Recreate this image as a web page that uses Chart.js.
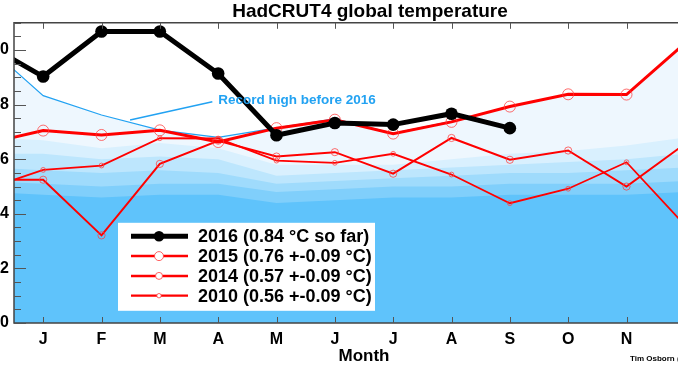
<!DOCTYPE html>
<html>
<head>
<meta charset="utf-8">
<script src="https://cdn.jsdelivr.net/npm/chart.js@4"></script>
<style>
  html, body { margin: 0; padding: 0; background: #fff; overflow: hidden; width: 678px; height: 378px; }
  /* the original figure is cropped on both sides, so the canvas is wider than the page */
  #wrap { position: absolute; left: -30px; top: 0; width: 800px; height: 378px; }
</style>
</head>
<body>
<div id="wrap"><canvas id="tempChart"></canvas></div>
<script>
// month letters on the axis, and x positions (-1 = December of the year before)
const MONTHS = ['J', 'F', 'M', 'A', 'M', 'J', 'J', 'A', 'S', 'O', 'N', 'D'];
const MONTH_POS = [-1, 0, 1, 2, 3, 4, 5, 6, 7, 8, 9, 10, 11];
const Y_TICKS = [0, 0.2, 0.4, 0.6, 0.8, 1.0];

// anomalies (degC), previous December first
const t2016 = [1.025, 0.903, 1.068, 1.068, 0.914, 0.688, 0.733, 0.727, 0.767, 0.714];
const t2015 = [0.656, 0.705, 0.689, 0.706, 0.663, 0.714, 0.745, 0.694, 0.737, 0.793, 0.838, 0.837, 1.025];
const t2014 = [0.525, 0.525, 0.321, 0.583, 0.668, 0.610, 0.626, 0.547, 0.678, 0.598, 0.632, 0.500, 0.656];
const t2010 = [0.489, 0.561, 0.577, 0.677, 0.676, 0.595, 0.587, 0.620, 0.544, 0.439, 0.492, 0.589, 0.359];

// record high before 2016 and the shaded bands under it
const recordHigh = [1.023, 0.833, 0.762, 0.707, 0.680, 0.715, 0.748, 0.695, 0.739, 0.793, 0.838, 0.837, 1.025];
const band2 = [0.68, 0.67, 0.64, 0.66, 0.64, 0.58, 0.58, 0.58, 0.60, 0.62, 0.63, 0.65, 0.68];
const band3 = [0.62, 0.62, 0.60, 0.61, 0.60, 0.54, 0.55, 0.56, 0.57, 0.58, 0.59, 0.60, 0.62];
const band4 = [0.57, 0.56, 0.55, 0.56, 0.55, 0.51, 0.52, 0.53, 0.54, 0.55, 0.55, 0.56, 0.57];
const band5 = [0.52, 0.51, 0.50, 0.51, 0.51, 0.48, 0.49, 0.50, 0.50, 0.51, 0.51, 0.51, 0.52];
const bandBase = [0.48, 0.47, 0.46, 0.47, 0.47, 0.44, 0.45, 0.46, 0.46, 0.47, 0.47, 0.47, 0.48];

const LEGEND = [
  '2016 (0.84 \u00B0C so far)',
  '2015 (0.76 +-0.09 \u00B0C)',
  '2014 (0.57 +-0.09 \u00B0C)',
  '2010 (0.56 +-0.09 \u00B0C)'
];

// where the "Record high" note sits, in data units
const NOTE_TEXT = 'Record high before 2016';
const NOTE_AT = { x: 3.0, y: 0.817 };
const NOTE_LINE = [{ x: 1.49, y: 0.744 }, { x: 2.90, y: 0.811 }];

const BLUE = '#22a2f2';
const FONT = "'Liberation Sans', Arial, sans-serif";

function toPoints(vals) {
  return vals.map((v, i) => ({ x: MONTH_POS[i], y: v }));
}

function yearSet(label, vals, color, width, radius, filled) {
  return {
    label: label,
    data: toPoints(vals),
    borderColor: color,
    borderWidth: width,
    pointRadius: radius,
    pointBorderWidth: filled ? 0 : 1,
    pointBorderColor: filled ? color : 'rgba(255,60,60,0.75)',
    pointBackgroundColor: filled ? color : 'rgba(0,0,0,0)',
    tension: 0,
    fill: false
  };
}

function bandSet(vals, color, line) {
  return {
    data: toPoints(vals),
    borderColor: line || 'rgba(0,0,0,0)',
    borderWidth: line ? 1.2 : 0,
    backgroundColor: color,
    pointRadius: 0,
    tension: 0,
    fill: 'origin'
  };
}

const years = [
  yearSet('2016', t2016, '#000000', 5, 6.3, true),
  yearSet('2015', t2015, '#ff0000', 3, 5.5, false),
  yearSet('2014', t2014, '#ff0000', 2, 3.6, false),
  yearSet('2010', t2010, '#ff0000', 1.8, 2.4, false)
];

// filler draws the last dataset first, so the record band goes last
const bands = [
  bandSet(bandBase, '#5fc3fb'),
  bandSet(band5, '#80cffb'),
  bandSet(band4, '#9fdbfc'),
  bandSet(band3, '#bde6fd'),
  bandSet(band2, '#d9f0fe'),
  bandSet(recordHigh, '#eef7fe', BLUE)
];

const decorations = {
  id: 'decorations',
  afterDatasetsDraw(chart) {
    const { ctx, scales: { x, y } } = chart;
    ctx.save();
    ctx.strokeStyle = BLUE;
    ctx.lineWidth = 1.5;
    ctx.beginPath();
    ctx.moveTo(x.getPixelForValue(NOTE_LINE[0].x), y.getPixelForValue(NOTE_LINE[0].y));
    ctx.lineTo(x.getPixelForValue(NOTE_LINE[1].x), y.getPixelForValue(NOTE_LINE[1].y));
    ctx.stroke();
    ctx.fillStyle = BLUE;
    ctx.font = 'bold 13.5px ' + FONT;
    ctx.textBaseline = 'middle';
    ctx.textAlign = 'left';
    ctx.fillText(NOTE_TEXT, x.getPixelForValue(NOTE_AT.x), y.getPixelForValue(NOTE_AT.y));
    ctx.restore();
  },
  afterDraw(chart) {
    const { ctx, chartArea: a, scales: { x, y } } = chart;
    ctx.save();

    // frame
    ctx.strokeStyle = '#444';
    ctx.lineWidth = 1.5;
    ctx.beginPath();
    ctx.moveTo(a.right, a.top);
    ctx.lineTo(a.left, a.top);
    ctx.lineTo(a.left, a.bottom);
    ctx.lineTo(a.right, a.bottom);
    ctx.stroke();

    // inward ticks
    ctx.strokeStyle = '#555';
    ctx.lineWidth = 1;
    ctx.beginPath();
    for (let k = 0; k <= 22; k++) {
      const py = Math.round(y.getPixelForValue(k * 0.05)) + 0.5;
      const len = k % 4 === 0 ? 12 : 7;
      ctx.moveTo(a.left, py);
      ctx.lineTo(a.left + len, py);
    }
    MONTHS.forEach((m, i) => {
      const px = Math.round(x.getPixelForValue(i)) + 0.5;
      ctx.moveTo(px, a.bottom);
      ctx.lineTo(px, a.bottom - 6);
      ctx.moveTo(px, a.top);
      ctx.lineTo(px, a.top + 6);
    });
    ctx.stroke();

    // legend box
    const bx = a.left + 104, by = a.top + 200, bw = 257, bh = 88;
    ctx.fillStyle = '#ffffff';
    ctx.fillRect(bx, by, bw, bh);
    ctx.font = 'bold 18px ' + FONT;
    ctx.textBaseline = 'middle';
    ctx.textAlign = 'left';
    const legendWidths = [5, 2.5, 2.5, 2.2];
    const legendRadius = [5.3, 4.5, 3.5, 2.2];
    years.forEach((ds, i) => {
      const ry = by + 13.5 + i * 19.8;
      ctx.strokeStyle = ds.borderColor;
      ctx.lineWidth = legendWidths[i];
      ctx.beginPath();
      ctx.moveTo(bx + 13, ry);
      ctx.lineTo(bx + 70, ry);
      ctx.stroke();
      ctx.beginPath();
      ctx.arc(bx + 41, ry, legendRadius[i], 0, Math.PI * 2);
      if (i === 0) {
        ctx.fillStyle = '#000';
        ctx.fill();
      } else {
        ctx.fillStyle = '#fff';
        ctx.fill();
        ctx.strokeStyle = 'rgba(255,60,60,0.8)';
        ctx.lineWidth = 1;
        ctx.stroke();
      }
      ctx.fillStyle = '#000';
      ctx.fillText(LEGEND[i], bx + 80, ry + 1);
    });

    // credit, cut off at the page edge like the original
    ctx.font = 'bold 8px ' + FONT;
    ctx.fillText('Tim Osborn (CRU)', a.left + 616, a.bottom + 36);
    ctx.restore();
  }
};

Chart.defaults.font.family = FONT;
Chart.defaults.font.weight = 'bold';
Chart.defaults.color = '#000';

new Chart(document.getElementById('tempChart').getContext('2d'), {
  type: 'line',
  data: { datasets: years.concat(bands) },
  options: {
    responsive: true,
    maintainAspectRatio: false,
    animation: false,
    events: [],
    layout: { padding: 0 },
    scales: {
      x: {
        type: 'linear',
        min: -0.5,
        max: 11.5,
        grid: { display: false, drawTicks: false },
        border: { display: false },
        afterBuildTicks: (s) => { s.ticks = MONTHS.map((m, i) => ({ value: i })); },
        afterFit: (s) => { s.height = 55; },
        ticks: {
          autoSkip: false,
          maxRotation: 0,
          padding: 7,
          font: { size: 16, weight: 'bold' },
          callback: (v) => MONTHS[v]
        },
        title: {
          display: true,
          text: 'Month',
          font: { size: 17, weight: 'bold' },
          padding: { top: 0, bottom: 11 }
        }
      },
      y: {
        min: 0,
        max: 1.1,
        grid: { display: false, drawTicks: false },
        border: { display: false },
        afterBuildTicks: (s) => { s.ticks = Y_TICKS.map((v) => ({ value: v })); },
        afterFit: (s) => { s.width = 44; },
        ticks: {
          padding: 5,
          font: { size: 16, weight: 'bold' },
          callback: (v) => v.toFixed(1)
        }
      },
      // empty right-hand axis: keeps the plot the right width while the title stays centred on the canvas
      yRight: {
        position: 'right',
        grid: { display: false, drawTicks: false },
        border: { display: false },
        ticks: { display: false },
        afterFit: (s) => { s.width = 56; }
      }
    },
    plugins: {
      legend: { display: false },
      tooltip: { enabled: false },
      title: {
        display: true,
        text: 'HadCRUT4 global temperature',
        font: { size: 19, weight: 'bold' },
        color: '#000',
        padding: { top: 0, bottom: 0 }
      }
    }
  },
  plugins: [decorations]
});
</script>
</body>
</html>
